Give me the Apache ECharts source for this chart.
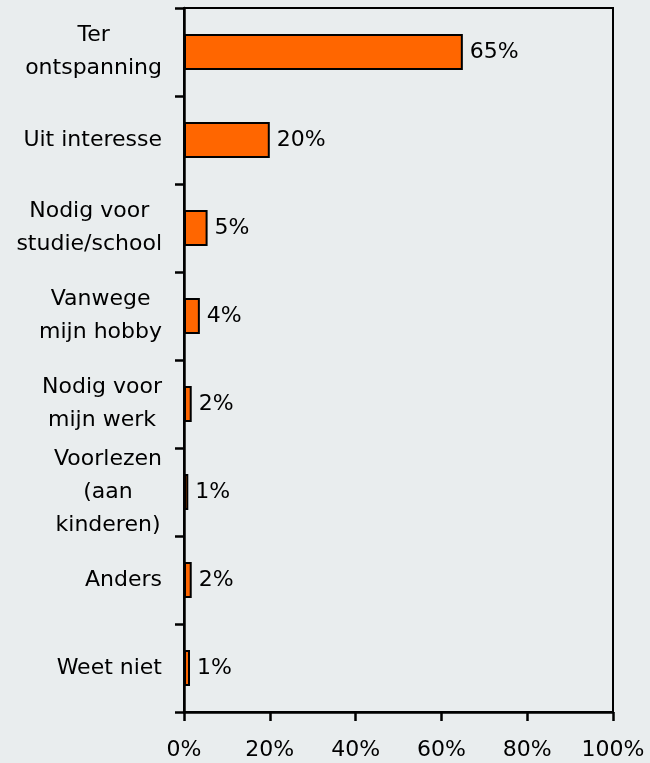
<!DOCTYPE html>
<html>
<head>
<meta charset="utf-8">
<script src="https://cdn.jsdelivr.net/npm/echarts@6/dist/echarts.min.js"></script>
<style>
html,body{margin:0;padding:0;background:#e9edee;}
#chart{width:650px;height:763px;}
</style>
</head>
<body>
<div id="chart"></div>
<script>
var categories = [
  'Ter\nontspanning',
  'Uit interesse',
  'Nodig voor\nstudie/school',
  'Vanwege\nmijn hobby',
  'Nodig voor\nmijn werk',
  'Voorlezen\n(aan\nkinderen)',
  'Anders',
  'Weet niet'
];
var values = [65, 20, 5.5, 3.7, 1.8, 1.0, 1.8, 1.4];
var valueLabels = ['65%', '20%', '5%', '4%', '2%', '1%', '2%', '1%'];
var xTicks = [0, 20, 40, 60, 80, 100];

var FONT = 'DejaVu Sans';
var FS = 22;
var chart = echarts.init(document.getElementById('chart'));
chart.setOption({
  backgroundColor: '#e9edee',
  animation: false,
  grid: {
    left: 184, right: 37, top: 8, bottom: 51,
    show: true, borderColor: '#000', borderWidth: 2, backgroundColor: 'transparent'
  },
  xAxis: {
    type: 'value',
    min: xTicks[0], max: xTicks[xTicks.length - 1], interval: xTicks[1] - xTicks[0],
    splitLine: { show: false },
    axisLine: { show: true, lineStyle: { color: '#000', width: 2.5 } },
    axisTick: { show: true, length: 9, lineStyle: { color: '#000', width: 2.5 } },
    axisLabel: {
      margin: 27, color: '#000', fontFamily: FONT, fontSize: FS,
      formatter: function (v) { return v + '%'; }
    }
  },
  yAxis: {
    type: 'category',
    inverse: true,
    data: categories,
    axisLine: { show: true, lineStyle: { color: '#000', width: 2.5 } },
    axisTick: { show: true, length: 9, lineStyle: { color: '#000', width: 2.5 } },
    axisLabel: {
      margin: 22, align: 'right', color: '#000', fontFamily: FONT, fontSize: FS,
      lineHeight: 33,
      formatter: function (v) {
        return v.split('\n').map(function (l) { return '{c|' + l + '}'; }).join('\n');
      },
      rich: {
        c: { align: 'center', color: '#000', fontFamily: FONT, fontSize: FS, lineHeight: 33 }
      }
    }
  },
  series: [{
    type: 'bar',
    data: values,
    barWidth: 36,
    itemStyle: { color: '#ff6600', borderColor: '#000', borderWidth: 2 },
    label: {
      show: true, position: 'right', distance: 7,
      color: '#000', fontFamily: FONT, fontSize: FS,
      formatter: function (p) { return valueLabels[p.dataIndex]; }
    }
  }]
});
</script>
</body>
</html>
